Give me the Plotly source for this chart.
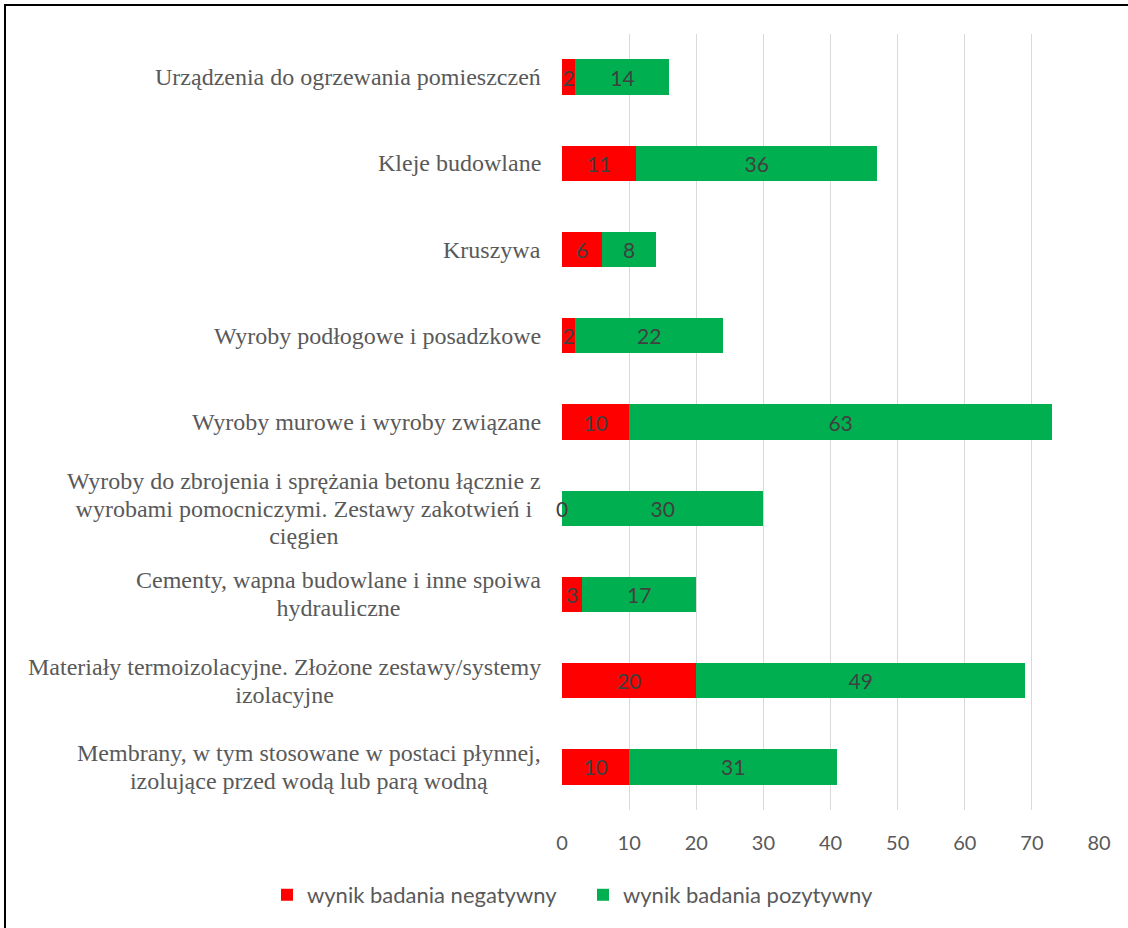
import plotly.graph_objects as go

categories = [
    "Membrany, w tym stosowane w postaci płynnej,<br>izolujące przed wodą lub parą wodną",
    "Materiały termoizolacyjne. Złożone zestawy/systemy<br>izolacyjne",
    "Cementy, wapna budowlane i inne spoiwa<br>hydrauliczne",
    "Wyroby do zbrojenia i sprężania betonu łącznie z<br>wyrobami pomocniczymi. Zestawy zakotwień i<br>cięgien",
    "Wyroby murowe i wyroby związane",
    "Wyroby podłogowe i posadzkowe",
    "Kruszywa",
    "Kleje budowlane",
    "Urządzenia do ogrzewania pomieszczeń",
]
negatywny = [10, 20, 3, 0, 10, 2, 6, 11, 2]
pozytywny = [31, 49, 17, 30, 63, 22, 8, 36, 14]
series_names = ["wynik badania negatywny", "wynik badania pozytywny"]
x_ticks = [0, 10, 20, 30, 40, 50, 60, 70, 80]

W, H = 1128, 928
L, R, T, B = 562, 29, 34, 118
pw, ph = W - L - R, H - T - B

sans = "Lato, Carlito, Liberation Sans"
label_font = dict(family=sans, size=21, color="#404040")

fig = go.Figure()
fig.add_trace(go.Bar(
    y=categories, x=negatywny, orientation="h", name=series_names[0],
    marker=dict(color="#FF0000", line=dict(width=0)),
    text=[str(v) if v else "" for v in negatywny], textposition="inside",
    insidetextanchor="middle", constraintext="none", textfont=label_font,
    hoverinfo="x+name",
))
fig.add_trace(go.Bar(
    y=categories, x=pozytywny, orientation="h", name=series_names[1],
    marker=dict(color="#00B050", line=dict(width=0)),
    text=[str(v) for v in pozytywny], textposition="inside",
    insidetextanchor="middle", constraintext="none", textfont=label_font,
    hoverinfo="x+name",
))

annotations = []
# category labels: centred lines, right-aligned block; line spacing = 1.3 * base size
base_size = 21.2
for c in categories:
    txt = "<br>".join("<span style='font-size:24px'>%s</span>" % ln for ln in c.split("<br>"))
    annotations.append(dict(
        x=0, xref="paper", y=c, yref="y", text=txt, showarrow=False,
        xanchor="right", yanchor="middle", align="center", xshift=-19,
        font=dict(family="Liberation Serif, Times New Roman, serif", size=base_size, color="#595959"),
    ))
# zero-value labels
for c, v in zip(categories, negatywny):
    if v == 0:
        annotations.append(dict(
            x=v, xref="x", y=c, yref="y", text=str(v), showarrow=False,
            xanchor="center", yanchor="middle", font=label_font,
        ))

# outer frame
fx0 = (5 - L) / pw
fy1 = (H - B - 5) / ph
fig.add_shape(type="rect", xref="paper", yref="paper",
              x0=fx0, x1=1.2, y0=-0.3, y1=fy1,
              line=dict(color="#000000", width=2), fillcolor="rgba(0,0,0,0)", layer="below")

fig.update_layout(
    width=W, height=H,
    margin=dict(l=L, r=R, t=T, b=B, autoexpand=False),
    barmode="stack", bargap=0.59,
    plot_bgcolor="white", paper_bgcolor="white",
    xaxis=dict(range=[0, 80], tickvals=x_ticks, showgrid=True, gridcolor="#D9D9D9",
               gridwidth=1, zeroline=False, showline=False,
               ticks="outside", ticklen=15, tickcolor="rgba(0,0,0,0)",
               tickfont=dict(family=sans, size=20, color="#595959"),
               fixedrange=True),
    yaxis=dict(categoryorder="array", categoryarray=categories, showticklabels=False,
               showgrid=False, zeroline=False, showline=False, ticks="", fixedrange=True),
    legend=dict(orientation="h", x=(267 - L) / pw, xanchor="left",
                y=-0.1095, yanchor="middle",
                font=dict(family=sans, size=22, color="#595959"),
                entrywidth=271, entrywidthmode="pixels", traceorder="normal"),
    annotations=annotations,
    showlegend=True,
)

fig.write_html("out.html", config={"displayModeBar": False},
               post_script="document.body.style.margin='0';")
